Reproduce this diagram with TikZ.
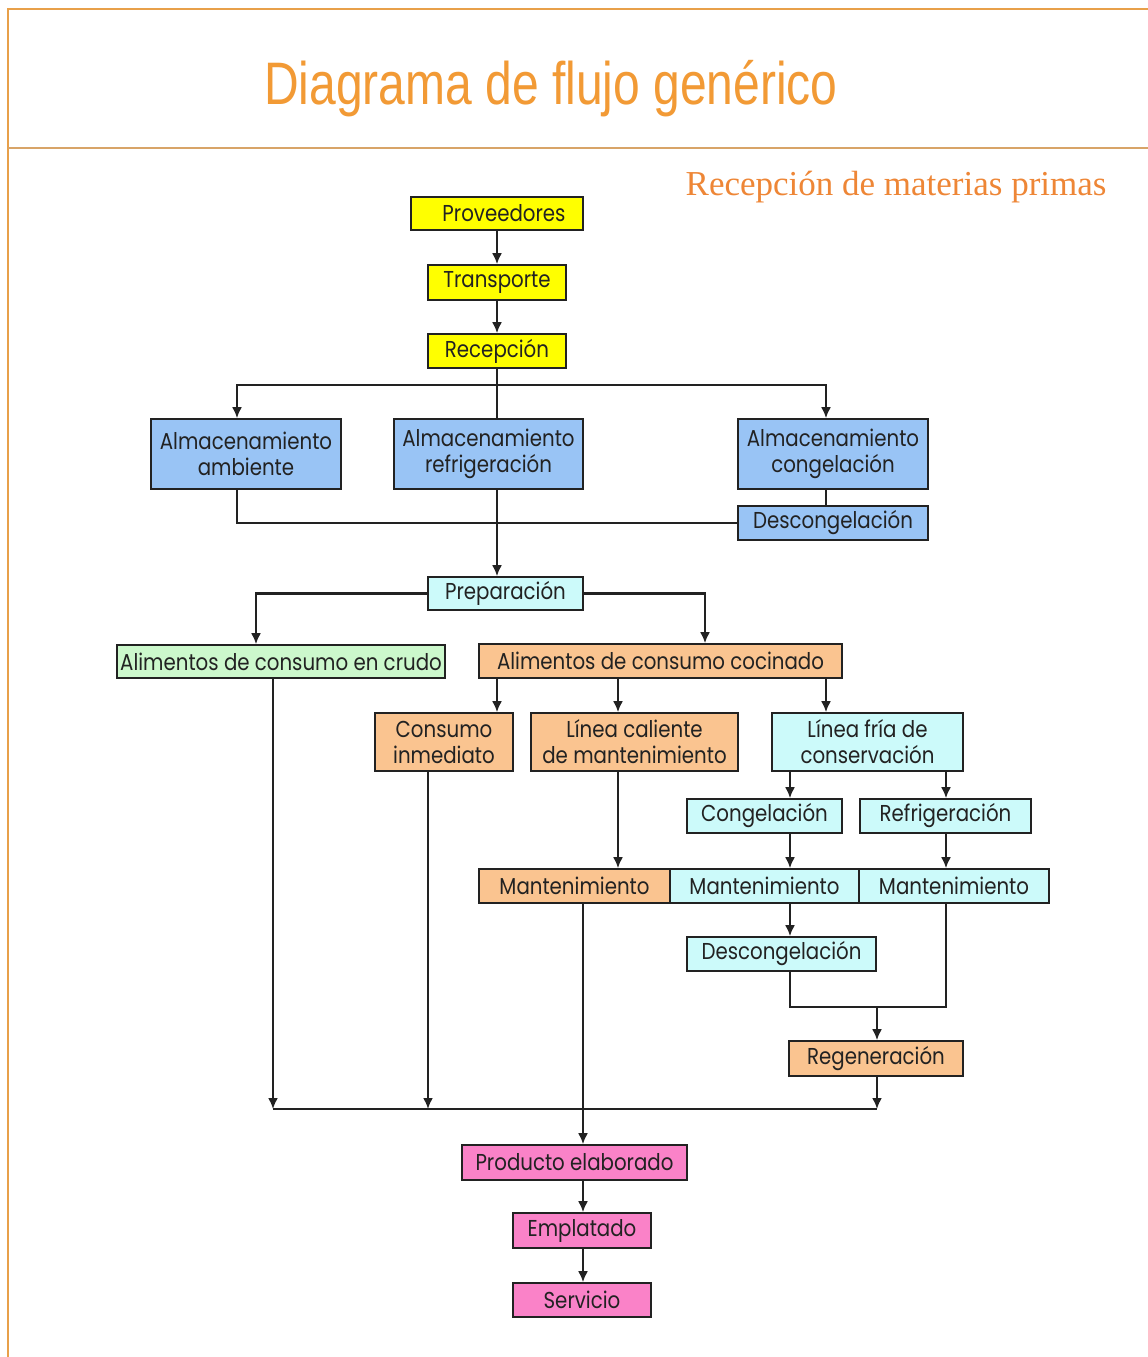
\documentclass[tikz,border=0pt]{standalone}
\usepackage{fontspec}
\usetikzlibrary{arrows.meta,calc}
\newfontfamily\boxfont[FakeStretch=0.86]{Poppins}
\newfontfamily\titlefont[FakeStretch=0.8]{Liberation Sans}
\newfontfamily\subfont{Liberation Serif}
\definecolor{frameor}{HTML}{E8A04A}
\definecolor{frametan}{HTML}{D8A468}
\definecolor{titleor}{HTML}{F29A35}
\definecolor{subor}{HTML}{EE8636}
\definecolor{cyel}{HTML}{FFFF00}
\definecolor{cblue}{HTML}{99C4F5}
\definecolor{ccyan}{HTML}{CCFAFA}
\definecolor{cgreen}{HTML}{CCF8CC}
\definecolor{cpeach}{HTML}{FAC490}
\definecolor{cpink}{HTML}{FA82C8}
\definecolor{ink}{HTML}{222222}
\tikzset{
  box/.style={draw=ink, line width=1.6pt, inner sep=0pt, align=center, text=ink,
    font=\boxfont\fontsize{23}{26}\selectfont},
  arr/.style={draw=ink, line width=2.1pt, -{Latex[length=11pt,width=10pt]}},
  ln/.style={draw=ink, line width=2.1pt},
}
\begin{document}
\begin{tikzpicture}[x=1pt,y=-1pt]
\useasboundingbox (0,0) rectangle (1148,1357);
\fill[white] (0,0) rectangle (1148,1357);
% frame
\draw[frameor, line width=2pt] (1148,9) -- (8,9) -- (8,1357);
\draw[frametan, line width=2pt] (8,148) -- (1148,148);
\node[anchor=base, text=titleor, font=\titlefont\fontsize{60}{60}\selectfont] (title) at (551,104) {Diagrama de flujo genérico};
\node[anchor=base east, text=subor, font=\subfont\fontsize{35}{35}\selectfont] (sub) at (1110,195) {Recepción de materias primas};
% columns and junctions
\coordinate (cA) at (237,0);
\coordinate (cB) at (256,0);
\coordinate (cC) at (273,0);
\coordinate (cD) at (428,0);
\coordinate (cE) at (497,0);
\coordinate (cF) at (583,0);
\coordinate (cG) at (618,0);
\coordinate (cH) at (705,0);
\coordinate (cI) at (790,0);
\coordinate (cJ) at (826,0);
\coordinate (cK) at (877,0);
\coordinate (cL) at (946,0);
\coordinate (j1) at (497,385);
\coordinate (jr) at (877,1007);
\coordinate (jbot) at (0,1109);
% boxes
\node[box, fill=cyel, minimum width=172, minimum height=33] (prov) at (497,213.5) {\hspace*{14pt}Proveedores};
\node[box, fill=cyel, minimum width=138, minimum height=35] (transp) at (497,282.5) {Transporte};
\node[box, fill=cyel, minimum width=138, minimum height=34] (recep) at (497,351) {Recepción};
\node[box, fill=cblue, minimum width=190, minimum height=70] (almamb) at (246,454) {Almacenamiento\\ambiente};
\node[box, fill=cblue, minimum width=189, minimum height=70] (almref) at (488.5,454) {Almacenamiento\\refrigeración};
\node[box, fill=cblue, minimum width=190, minimum height=70] (almcon) at (833,454) {Almacenamiento\\congelación};
\node[box, fill=cblue, minimum width=190, minimum height=34] (desc1) at (833,523) {Descongelación};
\node[box, fill=ccyan, minimum width=155, minimum height=33] (prep) at (505.5,593.5) {Preparación};
\node[box, fill=cgreen, minimum width=328, minimum height=33] (crudo) at (281,661.5) {Alimentos de consumo en crudo};
\node[box, fill=cpeach, minimum width=363, minimum height=34] (cocin) at (660.5,661) {Alimentos de consumo cocinado};
\node[box, fill=cpeach, minimum width=138, minimum height=58] (consumo) at (444,742) {Consumo\\inmediato};
\node[box, fill=cpeach, minimum width=207, minimum height=58] (caliente) at (634.5,742) {Línea caliente\\de mantenimiento};
\node[box, fill=ccyan, minimum width=191, minimum height=58] (fria) at (867.5,742) {Línea fría de\\conservación};
\node[box, fill=ccyan, minimum width=155, minimum height=34] (congel) at (764.5,816) {Congelación};
\node[box, fill=ccyan, minimum width=171, minimum height=34] (refrig) at (945.5,816) {Refrigeración};
\node[box, fill=cpeach, minimum width=191, minimum height=34] (mant1) at (574.5,886) {Mantenimiento};
\node[box, fill=ccyan, minimum width=189, minimum height=34] (mant2) at (764.5,886) {Mantenimiento};
\node[box, fill=ccyan, minimum width=190, minimum height=34] (mant3) at (954,886) {Mantenimiento};
\node[box, fill=ccyan, minimum width=189, minimum height=34] (desc2) at (781.5,954) {Descongelación};
\node[box, fill=cpeach, minimum width=174, minimum height=35] (regen) at (876,1058.5) {Regeneración};
\node[box, fill=cpink, minimum width=225, minimum height=35] (prod) at (574.5,1162.5) {Producto elaborado};
\node[box, fill=cpink, minimum width=138, minimum height=35] (empl) at (582,1230.5) {Emplatado};
\node[box, fill=cpink, minimum width=138, minimum height=34] (serv) at (582,1300) {Servicio};
% connectors
\draw[arr] (prov.south -| cE) -- (transp.north -| cE);
\draw[arr] (transp.south -| cE) -- (recep.north -| cE);
\draw[ln] (recep.south -| cE) -- (j1);
\draw[ln] (j1) -- (almref.north -| cE);
\draw[arr] (j1) -| (almamb.north -| cA);
\draw[arr] (j1) -| (almcon.north -| cJ);
\draw[ln] (almamb.south -| cA) |- (desc1.west);
\draw[ln] (almcon.south -| cJ) -- (desc1.north -| cJ);
\draw[arr] (almref.south -| cE) -- (prep.north -| cE);
\draw[arr] (prep.west) -| (crudo.north -| cB);
\draw[arr] (prep.east) -| (cocin.north -| cH);
\draw[arr] (cocin.south -| cE) -- (consumo.north -| cE);
\draw[arr] (cocin.south -| cG) -- (caliente.north -| cG);
\draw[arr] (cocin.south -| cJ) -- (fria.north -| cJ);
\draw[arr] (fria.south -| cI) -- (congel.north -| cI);
\draw[arr] (fria.south -| cL) -- (refrig.north -| cL);
\draw[arr] (caliente.south -| cG) -- (mant1.north -| cG);
\draw[arr] (congel.south -| cI) -- (mant2.north -| cI);
\draw[arr] (refrig.south -| cL) -- (mant3.north -| cL);
\draw[arr] (mant2.south -| cI) -- (desc2.north -| cI);
\draw[ln] (desc2.south -| cI) -- (cI |- jr) -- (cL |- jr) -- (mant3.south -| cL);
\draw[arr] (jr) -- (regen.north -| cK);
\draw[arr] (crudo.south -| cC) -- (cC |- jbot);
\draw[arr] (consumo.south -| cD) -- (cD |- jbot);
\draw[arr] (regen.south -| cK) -- (cK |- jbot);
\draw[ln] (cC |- jbot) -- (cK |- jbot);
\draw[arr] (mant1.south -| cF) -- (prod.north -| cF);
\draw[arr] (prod.south -| cF) -- (empl.north -| cF);
\draw[arr] (empl.south -| cF) -- (serv.north -| cF);
\end{tikzpicture}
\end{document}
